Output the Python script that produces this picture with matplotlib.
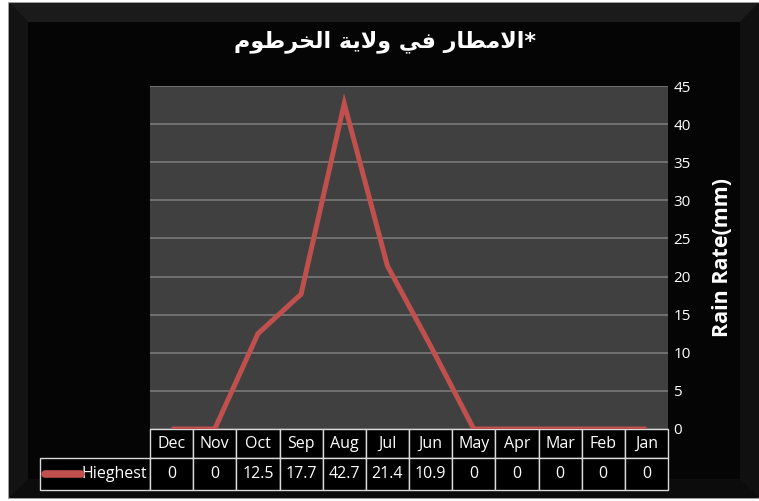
import matplotlib
matplotlib.use("Agg")
import matplotlib.pyplot as plt
from matplotlib.patches import Rectangle, Polygon
from matplotlib.lines import Line2D
from matplotlib.table import Table

# ---- data -------------------------------------------------------------
months = ['Dec', 'Nov', 'Oct', 'Sep', 'Aug', 'Jul', 'Jun', 'May', 'Apr', 'Mar', 'Feb', 'Jan']
highest = [0, 0, 12.5, 17.7, 42.7, 21.4, 10.9, 0, 0, 0, 0, 0]
series_name = 'Hieghest'
title_text = '*الامطار في ولاية الخرطوم'
y_label = 'Rain Rate(mm)'
y_ticks = [0, 5, 10, 15, 20, 25, 30, 35, 40, 45]

# ---- minimal Arabic shaping (matplotlib has no bidi / joining) --------
FORMS = {  # isolated, final, initial, medial
    'ا': (0xFE8D, 0xFE8E, None, None),
    'ة': (0xFE93, 0xFE94, None, None),
    'ر': (0xFEAD, 0xFEAE, None, None),
    'و': (0xFEED, 0xFEEE, None, None),
    'خ': (0xFEA5, 0xFEA6, 0xFEA7, 0xFEA8),
    'ط': (0xFEC1, 0xFEC2, 0xFEC3, 0xFEC4),
    'ف': (0xFED1, 0xFED2, 0xFED3, 0xFED4),
    'ل': (0xFEDD, 0xFEDE, 0xFEDF, 0xFEE0),
    'م': (0xFEE1, 0xFEE2, 0xFEE3, 0xFEE4),
    'ي': (0xFEF1, 0xFEF2, 0xFEF3, 0xFEF4),
    'لا': (0xFEFB, 0xFEFC, None, None),
}


def shape_arabic(text):
    tokens = []
    i = 0
    while i < len(text):
        if text[i] == 'ل' and i + 1 < len(text) and text[i + 1] == 'ا':
            tokens.append('لا')
            i += 2
        else:
            tokens.append(text[i])
            i += 1

    def dual(t):
        return t in FORMS and FORMS[t][2] is not None

    out = []
    for k, t in enumerate(tokens):
        if t not in FORMS:
            out.append(t)
            continue
        prev_join = k > 0 and dual(tokens[k - 1])
        next_join = dual(t) and k + 1 < len(tokens) and tokens[k + 1] in FORMS
        iso, fin, ini, med = FORMS[t]
        if prev_join and next_join:
            cp = med
        elif prev_join:
            cp = fin
        elif next_join:
            cp = ini
        else:
            cp = iso
        out.append(chr(cp))
    return ''.join(reversed(out))


# ---- figure -----------------------------------------------------------
W, H = 759, 501
fig = plt.figure(figsize=(W / 100, H / 100), dpi=100, facecolor='white')

def px(x, y):
    return (x / W, 1 - y / H)

# dark beveled frame
frame = Rectangle(px(9, 498), (W - 9) / W, 495 / H, transform=fig.transFigure,
                  facecolor='#050505', edgecolor='#8a8a8a', linewidth=1.2, zorder=-3)
fig.patches.append(frame)
bevels = [
    ([(9, 3), (759, 3), (740, 22), (28, 22)], '#1b1b1b'),
    ([(9, 3), (28, 22), (28, 479), (9, 498)], '#131313'),
    ([(9, 498), (28, 479), (740, 479), (759, 498)], '#0c0c0c'),
    ([(759, 3), (740, 22), (740, 479), (759, 498)], '#101010'),
]
for pts, col in bevels:
    fig.patches.append(Polygon([px(*p) for p in pts], closed=True, transform=fig.transFigure,
                               facecolor=col, edgecolor='none', zorder=-2))

# plot area
ax_l, ax_r, ax_t, ax_b = 150, 668, 86, 429
ax_w, ax_h = ax_r - ax_l, ax_b - ax_t
ax = fig.add_axes([ax_l / W, 1 - ax_b / H, ax_w / W, ax_h / H])
ax.set_facecolor('#404040')
for s in ax.spines.values():
    s.set_visible(False)

x = list(range(len(months)))
ax.plot(x, highest, color='#c0504d', linewidth=3.6, solid_joinstyle='miter',
        solid_capstyle='butt', zorder=3)
ax.set_xlim(-0.5, len(months) - 0.5)
ax.set_ylim(0, 45)
ax.set_xticks([])
ax.set_yticks(y_ticks)
ax.yaxis.tick_right()
ax.tick_params(axis='y', length=0, pad=4, labelcolor='white', labelsize=11)
for lab in ax.get_yticklabels():
    lab.set_fontfamily(['Open Sans', 'DejaVu Sans'])
ax.grid(axis='y', color='#717171', linewidth=1.4)
ax.set_axisbelow(True)

ax.yaxis.set_label_position('right')
ax.set_ylabel(y_label, color='white', fontsize=15.5, fontweight='bold',
              family=['Open Sans', 'DejaVu Sans'], labelpad=15)

# data table under the plot (bbox covers the month columns; the
# series-label column is appended to their left)
label_w = (ax_l - 40) / ax_w
col_w = 1.0 / len(months)
head_h = (458 - ax_b) / ax_h
row_h = (490 - 458) / ax_h
tab = Table(ax, bbox=[0, -(head_h + row_h), 1, head_h + row_h])
tab.auto_set_font_size(False)
for c, (m, v) in enumerate(zip(months, highest)):
    tab.add_cell(0, c, col_w, head_h, text=m, loc='center', facecolor='black', edgecolor='#d9d9d9')
    tab.add_cell(1, c, col_w, row_h, text=f'{v:g}', loc='center', facecolor='black',
                 edgecolor='#d9d9d9')
lbl = tab.add_cell(1, -1, label_w, row_h, text=series_name, loc='right', facecolor='black',
                   edgecolor='#d9d9d9')
lbl.PAD = 0.03
for cell in tab.get_celld().values():
    cell.set_linewidth(1.0)
    cell.get_text().set_color('white')
    cell.get_text().set_fontsize(11.5)
    cell.get_text().set_fontfamily(['Open Sans', 'DejaVu Sans'])
ax.add_table(tab)

# legend key inside the row-label cell
key_y = -(474 - ax_b) / ax_h
ax.add_line(Line2D([(45 - ax_l) / ax_w, (81 - ax_l) / ax_w], [key_y, key_y],
                   transform=ax.transAxes, color='#c0504d', linewidth=5.5,
                   solid_capstyle='round', clip_on=False, zorder=5))

# title
fig.text(385 / W, 1 - 42 / H, shape_arabic(title_text), ha='center', va='center',
         color='white', fontsize=16, fontweight='bold', family='DejaVu Sans')

fig.savefig('out.png', dpi=100, facecolor=fig.get_facecolor())
